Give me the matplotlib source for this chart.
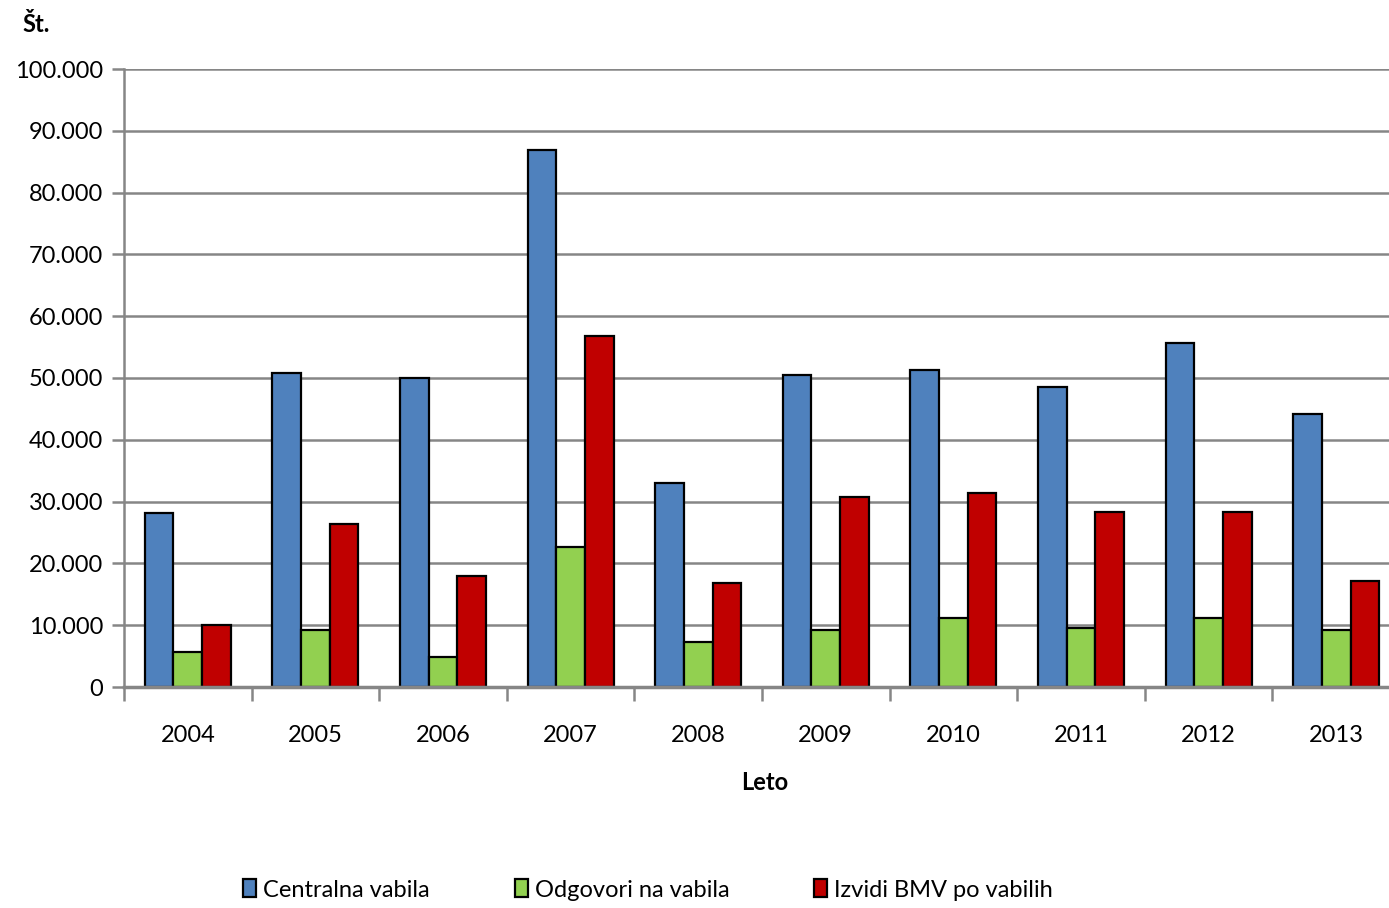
import matplotlib
matplotlib.use("Agg")
import matplotlib.pyplot as plt
import numpy as np
from matplotlib.ticker import FuncFormatter, FixedLocator

years = ["2004", "2005", "2006", "2007", "2008", "2009", "2010", "2011", "2012", "2013"]
centralna = [28200, 50800, 50000, 86900, 33000, 50500, 51300, 48500, 55700, 44200]
odgovori = [5700, 9200, 4900, 22700, 7300, 9200, 11200, 9600, 11200, 9200]
izvidi = [10000, 26400, 18000, 56800, 16800, 30700, 31400, 28300, 28300, 17200]
series_names = ["Centralna vabila", "Odgovori na vabila", "Izvidi BMV po vabilih"]
colors = ["#4F81BD", "#92D050", "#C00000"]

plt.rcParams['font.family'] = ['Lato', 'DejaVu Sans']
fs = 17

fig = plt.figure(figsize=(13.89, 9.08), dpi=100)
ax = fig.add_axes([124/1389, (908-687)/908, 1276/1389, 618/908])

x = np.arange(len(years))
w = 0.225
for i, (vals, name, c) in enumerate(zip([centralna, odgovori, izvidi], series_names, colors)):
    ax.bar(x + (i-1)*w, vals, width=w, color=c, edgecolor="black", linewidth=1.6,
           label=name, zorder=3)

ax.set_xlim(-0.5, len(years)-0.5)
ax.set_ylim(0, 100000)
ax.set_yticks(np.arange(0, 100001, 10000))
ax.yaxis.set_major_formatter(FuncFormatter(lambda v, p: f"{int(v):,}".replace(",", ".")))
ax.set_xticks(x)
ax.set_xticklabels(years)
ax.xaxis.set_minor_locator(FixedLocator(np.arange(-0.5, len(years), 1.0)))

ax.grid(axis="y", color="#868686", linewidth=1.8, zorder=0)
for s in ["top", "right"]:
    ax.spines[s].set_visible(False)
ax.spines["left"].set_color("#868686")
ax.spines["left"].set_linewidth(1.8)
ax.spines["bottom"].set_color("#868686")
ax.spines["bottom"].set_linewidth(2.5)
ax.spines["bottom"].set_zorder(4)

ax.tick_params(axis="y", which="major", length=9, width=1.8, color="#868686",
               labelsize=fs, pad=6)
ax.tick_params(axis="x", which="major", length=0, labelsize=fs, pad=27)
ax.tick_params(axis="x", which="minor", length=10, width=1.8, color="#868686")

fig.text(22/1389, 1-25/908, "Št.", fontsize=fs, fontweight="bold", ha="left", va="center")
fig.text(765/1389, 1-783/908, "Leto", fontsize=fs, fontweight="bold", ha="center", va="center")

leg = fig.legend(loc="center", bbox_to_anchor=(648/1389, 1-890/908), ncol=3, frameon=False,
                 fontsize=fs, handlelength=0.55, handleheight=0.8, handletextpad=0.3,
                 columnspacing=3.6)

fig.savefig("out.png", dpi=100)
